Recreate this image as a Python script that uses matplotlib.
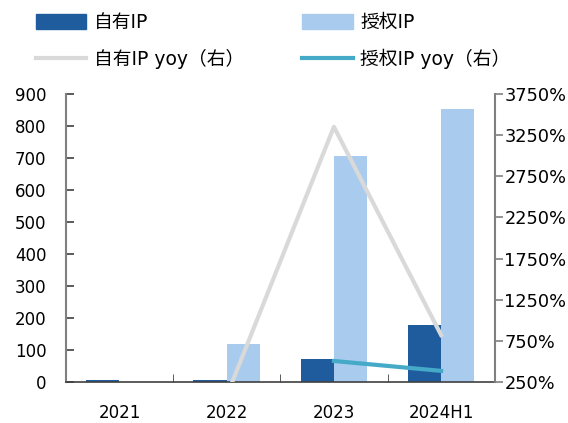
import matplotlib
matplotlib.use("Agg")
import matplotlib.pyplot as plt
import numpy as np
from matplotlib.patches import Patch
from matplotlib.lines import Line2D

plt.rcParams['font.family'] = ['DejaVu Sans', 'Noto Sans CJK SC']

# data
categories = ["2021", "2022", "2023", "2024H1"]
own_ip = [6, 6, 72, 178]
licensed_ip = [0, 119, 706, 853]
own_yoy = [np.nan, 80, 3350, 820]
licensed_yoy = [np.nan, np.nan, 505, 385]

dark_blue = "#1F5C9E"
light_blue = "#A9CBEE"
gray = "#D9D9D9"
teal = "#45A9C8"

fig = plt.figure(figsize=(5.68, 4.23), dpi=100)
ax = fig.add_axes([0.116, 0.097, 0.755, 0.681])
ax2 = ax.twinx()

x = np.arange(len(categories))
w = 0.31
ax.bar(x - w / 2, own_ip, w, color=dark_blue, zorder=2)
ax.bar(x + w / 2, licensed_ip, w, color=light_blue, zorder=2)

ax2.plot(x, own_yoy, color=gray, lw=3, zorder=3)
ax2.plot(x, licensed_yoy, color=teal, lw=3, zorder=3)

ax.set_xlim(-0.5, len(categories) - 0.5)
ax.set_ylim(0, 900)
ax.set_yticks(range(0, 901, 100))
ax2.set_ylim(250, 3750)
ax2.set_yticks(range(250, 3751, 500))
ax2.set_yticklabels([f"{v}%" for v in range(250, 3751, 500)])

ax.set_xticks(x)
ax.set_xticklabels(categories)
ax.set_xticks(np.arange(0.5, len(categories) - 1, 1), minor=True)
ax.tick_params(axis='x', which='major', length=0, labelsize=12, pad=16)
ax.tick_params(axis='x', which='minor', direction='in', length=6, color='#404040')
ax.tick_params(axis='y', direction='in', length=6, width=1.2, color='#404040', labelsize=12, pad=14)
ax2.tick_params(axis='y', direction='out', length=6, width=1.2, color='#808080', labelsize=12.8, pad=1)

for a in (ax, ax2):
    a.spines['top'].set_visible(False)
ax.spines['right'].set_visible(False)
ax.spines['left'].set_color('#808080')
ax.spines['left'].set_linewidth(1.5)
ax2.spines['left'].set_visible(False)
ax2.spines['bottom'].set_visible(False)
ax2.spines['right'].set_color('#808080')
ax2.spines['right'].set_linewidth(1.5)
ax.spines['bottom'].set_color('#404040')
ax.spines['bottom'].set_linewidth(1.2)

handles = [
    Patch(color=dark_blue), Line2D([], [], color=gray, lw=3),
    Patch(color=light_blue), Line2D([], [], color=teal, lw=3),
]
labels = ["自有IP", "自有IP yoy（右）", "授权IP", "授权IP yoy（右）"]
fig.legend(handles, labels, ncol=2, loc='upper left', bbox_to_anchor=(0.033, 1.01),
           frameon=False, fontsize=13.5, handlelength=2.7, handleheight=0.85,
           handletextpad=0.4, labelspacing=0.9, columnspacing=3.1)

fig.savefig("out.png", dpi=100)
